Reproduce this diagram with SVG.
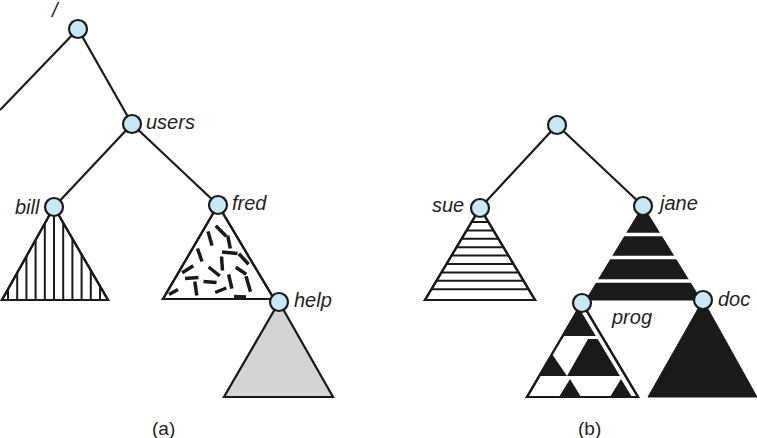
<svg xmlns="http://www.w3.org/2000/svg" width="757" height="438" viewBox="0 0 757 438">
<style>
.edge{stroke:#1a1a1a;stroke-width:2.2;fill:none}
.node{fill:#c9e8f7;stroke:#1a1a1a;stroke-width:2.2}
.tri{stroke:#1a1a1a;stroke-width:2.2;stroke-linejoin:miter}
.lbl{font-family:"Liberation Sans",Arial,sans-serif;font-style:italic;font-size:20px;fill:#231f20}
.cap{font-family:"Liberation Sans",Arial,sans-serif;font-size:19px;fill:#231f20}
.hatch{stroke:#1a1a1a;stroke-width:2}
.dash{stroke:#1a1a1a;stroke-width:3.5;stroke-linecap:butt}
</style>
<defs>
<clipPath id="clipBill"><polygon points="54,207 2,300 108,300"/></clipPath>
<clipPath id="clipSue"><polygon points="480,208 425,300 535,300"/></clipPath>
<clipPath id="clipProg"><polygon points="579,308 528,396 632,396"/></clipPath>
<clipPath id="clipFred"><polygon points="218,205 163,299 274,299"/></clipPath>
</defs>

<g id="connectors">
<line class="edge" x1="78" y1="29" x2="0" y2="110"/>
<line class="edge" x1="78" y1="29" x2="132" y2="124"/>
<line class="edge" x1="132" y1="124" x2="54" y2="207"/>
<line class="edge" x1="132" y1="124" x2="218" y2="205"/>
<line class="edge" x1="557" y1="125" x2="480" y2="208"/>
<line class="edge" x1="557" y1="125" x2="643" y2="206"/>
</g>

<g id="root-a">
<text class="lbl" x="52" y="17" font-weight="300">/</text>
<circle class="node" cx="78" cy="29" r="9"/>
</g>

<g id="users">
<circle class="node" cx="132" cy="124" r="9"/>
<text class="lbl" x="146" y="129">users</text>
</g>

<g id="bill">
<polygon class="tri" points="54,207 2,300 108,300" fill="#fff"/>
<g clip-path="url(#clipBill)">
<line class="hatch" x1="8" y1="200" x2="8" y2="300"/>
<line class="hatch" x1="17.2" y1="200" x2="17.2" y2="300"/>
<line class="hatch" x1="26.4" y1="200" x2="26.4" y2="300"/>
<line class="hatch" x1="35.6" y1="200" x2="35.6" y2="300"/>
<line class="hatch" x1="44.8" y1="200" x2="44.8" y2="300"/>
<line class="hatch" x1="54" y1="200" x2="54" y2="300"/>
<line class="hatch" x1="63.2" y1="200" x2="63.2" y2="300"/>
<line class="hatch" x1="72.4" y1="200" x2="72.4" y2="300"/>
<line class="hatch" x1="81.6" y1="200" x2="81.6" y2="300"/>
<line class="hatch" x1="90.8" y1="200" x2="90.8" y2="300"/>
<line class="hatch" x1="100" y1="200" x2="100" y2="300"/>
</g>
<polygon class="tri" points="54,207 2,300 108,300" fill="none"/>
<circle class="node" cx="54" cy="207" r="9"/>
<text class="lbl" x="15" y="214">bill</text>
</g>

<g id="fred">
<polygon class="tri" points="218,205 163,299 274,299" fill="#fff"/>
<g clip-path="url(#clipFred)">
<line class="dash" x1="215.8" y1="225.8" x2="226.2" y2="236.2"/>
<line class="dash" x1="208" y1="231.4" x2="212" y2="245.6"/>
<line class="dash" x1="227.7" y1="235.5" x2="230.3" y2="248.5"/>
<line class="dash" x1="222" y1="252" x2="237.5" y2="253.5"/>
<line class="dash" x1="197.5" y1="248.5" x2="202" y2="261.5"/>
<line class="dash" x1="221.5" y1="256.5" x2="222.5" y2="270.5"/>
<line class="dash" x1="208.7" y1="267" x2="219.8" y2="276"/>
<line class="dash" x1="235.8" y1="267.2" x2="246.2" y2="274.3"/>
<line class="dash" x1="182.2" y1="272.8" x2="193.3" y2="265.7"/>
<line class="dash" x1="238.9" y1="253.8" x2="248.6" y2="264.2"/>
<line class="dash" x1="185" y1="278.6" x2="198.5" y2="277.4"/>
<line class="dash" x1="194.8" y1="281.4" x2="196.8" y2="295.6"/>
<line class="dash" x1="203.5" y1="281.4" x2="216.5" y2="282.6"/>
<line class="dash" x1="228.6" y1="274.4" x2="231.9" y2="288.6"/>
<line class="dash" x1="246" y1="276.2" x2="250.5" y2="291.8"/>
<line class="dash" x1="169" y1="294.6" x2="178" y2="289.4"/>
<line class="dash" x1="215.2" y1="292.5" x2="226.3" y2="288"/>
<line class="dash" x1="234" y1="296.5" x2="246" y2="297"/>
</g>
<polygon class="tri" points="218,205 163,299 274,299" fill="none"/>
<circle class="node" cx="218" cy="205" r="9"/>
<text class="lbl" x="232" y="210">fred</text>
</g>

<g id="help">
<polygon class="tri" points="279,302 224,397 333,397" fill="#d4d4d5"/>
<circle class="node" cx="279" cy="302" r="9"/>
<text class="lbl" x="294" y="307">help</text>
</g>

<g id="root-b">
<circle class="node" cx="557" cy="125" r="9"/>
</g>

<g id="sue">
<polygon class="tri" points="480,208 425,300 535,300" fill="#fff"/>
<g clip-path="url(#clipSue)">
<line class="hatch" x1="420" y1="222" x2="540" y2="222"/>
<line class="hatch" x1="420" y1="230.4" x2="540" y2="230.4"/>
<line class="hatch" x1="420" y1="238.8" x2="540" y2="238.8"/>
<line class="hatch" x1="420" y1="247.2" x2="540" y2="247.2"/>
<line class="hatch" x1="420" y1="255.6" x2="540" y2="255.6"/>
<line class="hatch" x1="420" y1="264" x2="540" y2="264"/>
<line class="hatch" x1="420" y1="272.4" x2="540" y2="272.4"/>
<line class="hatch" x1="420" y1="280.8" x2="540" y2="280.8"/>
<line class="hatch" x1="420" y1="289.2" x2="540" y2="289.2"/>
</g>
<polygon class="tri" points="480,208 425,300 535,300" fill="none"/>
<circle class="node" cx="480" cy="208" r="9"/>
<text class="lbl" x="432" y="212">sue</text>
</g>

<g id="jane">
<polygon points="643,206 586,300 701,300" fill="#1a1a1a" stroke="#1a1a1a" stroke-width="1"/>
<line x1="580" y1="234.5" x2="710" y2="234.5" stroke="#fff" stroke-width="3.5"/>
<line x1="580" y1="257.5" x2="710" y2="257.5" stroke="#fff" stroke-width="3.5"/>
<line x1="580" y1="281" x2="710" y2="281" stroke="#fff" stroke-width="3.5"/>
<circle class="node" cx="643" cy="206" r="9"/>
<text class="lbl" x="660" y="210">jane</text>
</g>

<g id="prog">
<polygon class="tri" points="582,303 527,397 638,397" fill="#fff"/>
<g clip-path="url(#clipProg)" fill="#1a1a1a">
<rect x="520" y="300" width="120" height="36"/>
<rect x="520" y="339" width="120" height="37"/>
<polygon points="554,339 588,339 567,376 552,354" fill="#fff"/>
<polygon points="570,379 559,397 581,397"/>
<polygon points="621,379 610,397 632,397"/>
</g>
<polygon class="tri" points="582,303 527,397 638,397" fill="none"/>
<circle class="node" cx="582" cy="303" r="9"/>
<text class="lbl" x="612" y="324">prog</text>
</g>

<g id="doc">
<polygon points="703,300 648,397 757,397" fill="#1a1a1a" stroke="#1a1a1a" stroke-width="1"/>
<circle class="node" cx="703" cy="300" r="9"/>
<text class="lbl" x="718" y="306">doc</text>
</g>

<text class="cap" x="152" y="435">(a)</text>
<text class="cap" x="578" y="435">(b)</text>
</svg>
